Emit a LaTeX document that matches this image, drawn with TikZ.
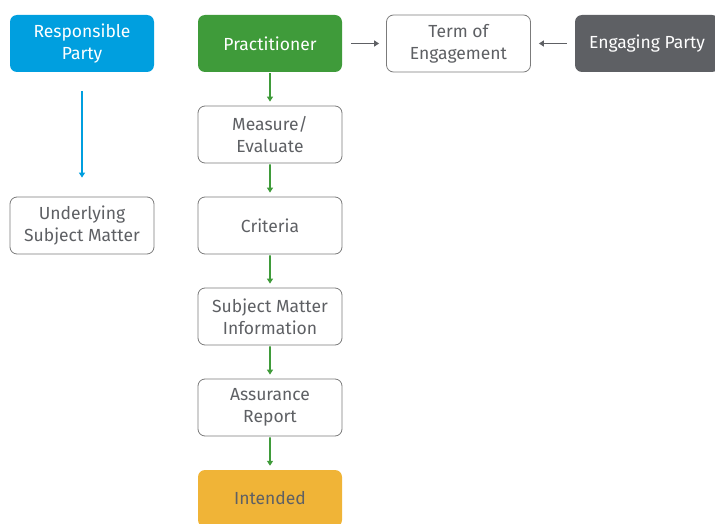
\documentclass[tikz,border=0pt]{standalone}
\usepackage{fontspec}
\setmainfont{Fira Sans}
\usetikzlibrary{arrows.meta}
\usetikzlibrary{trees}
\definecolor{partyblue}{HTML}{009FDF}
\definecolor{pracgreen}{HTML}{3F9B3A}
\definecolor{engagegray}{HTML}{5E6064}
\definecolor{useryellow}{HTML}{F0B437}
\definecolor{textgray}{HTML}{5E6064}
\definecolor{framegray}{HTML}{7B7B7B}

\begin{document}
\begin{tikzpicture}
[x=1pt,y=-1pt,%
  every node/.style={shape=rectangle,rounded corners=7pt,minimum width=144pt,
    minimum height=57pt,inner sep=0pt,align=center,text=textgray,
    font=\fontsize{17.5}{22}\selectfont},%
  plain/.style={draw=framegray,line width=0.8pt,fill=white},%
  filled/.style={fill=#1,text=white},%
  link/.style={-{Triangle[length=5pt,width=6pt]},line width=1.8pt}]
\useasboundingbox (0,0) rectangle (715,524);
\node[filled=pracgreen] (prac) at (270,43.5) {Practitioner}
  [grow=down,level distance=91pt,
   edge from parent/.style={draw,link,pracgreen,shorten <=1pt,shorten >=4pt}]
  child {node[plain] (meas) {Measure/\\Evaluate}
    child {node[plain] (crit) {Criteria}
      child {node[plain] (info) {Subject Matter\\Information}
        child {node[plain] (report) {Assurance\\Report}
          child {node[filled=useryellow,text=textgray] (intended) {Intended}}
        }
      }
    }
  };
\node[filled=partyblue] (resp) at (82,43.5) {Responsible\\Party};
\node[plain] (under) at (82,225.5) {Underlying\\Subject Matter};
\node[plain] (term) at (458.5,43.5) {Term of\\Engagement};
\node[filled=engagegray] (engage) at (647,43.5) {Engaging Party};
\draw[link,partyblue,line width=1.5pt,shorten <=19pt,shorten >=19pt] (resp) -- (under);
\draw[link,engagegray,shorten <=9pt,shorten >=7pt] (prac) -- (term);
\draw[link,engagegray,shorten <=8pt,shorten >=8pt] (engage) -- (term);
\end{tikzpicture}
\end{document}
